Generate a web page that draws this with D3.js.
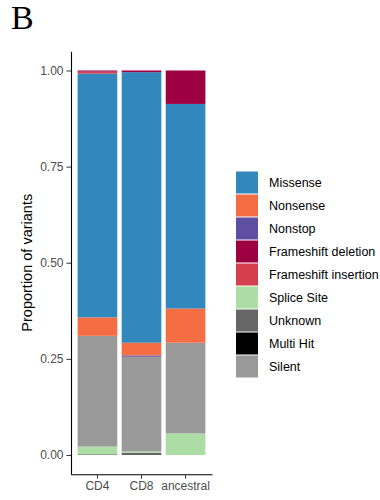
<!DOCTYPE html>
<html>
<head>
<meta charset="utf-8">
<script src="https://cdn.jsdelivr.net/npm/d3@7/dist/d3.min.js"></script>
<style>
  html, body { margin: 0; padding: 0; background: #fff; }
  svg { display: block; }
  text { font-family: "Liberation Sans", Arial, Helvetica, sans-serif; }
</style>
</head>
<body>
<svg id="chart" width="380" height="500"></svg>
<script>
// Samples along the x axis
const samples = ["CD4", "CD8", "ancestral"];

// Variant classes, in legend order
const variantTypes = [
  "Missense", "Nonsense", "Nonstop", "Frameshift deletion",
  "Frameshift insertion", "Splice Site", "Unknown", "Multi Hit", "Silent"
];

// Proportion of variants per class, one value per sample
const missense            = [0.634, 0.7036, 0.532];
const nonsense            = [0.048, 0.033, 0.089];
const nonstop             = [0.000, 0.0035, 0.000];
const frameshiftDeletion  = [0.003, 0.0044, 0.087];
const frameshiftInsertion = [0.005, 0.000, 0.000];
const spliceSite          = [0.020, 0.0035, 0.056];
const unknown             = [0.002, 0.006, 0.000];
const multiHit            = [0.000, 0.000, 0.000];
const silent              = [0.288, 0.246, 0.236];

// Y axis ticks
const yTicks = [0, 0.25, 0.5, 0.75, 1];

const seriesByType = {
  "Missense": missense,
  "Nonsense": nonsense,
  "Nonstop": nonstop,
  "Frameshift deletion": frameshiftDeletion,
  "Frameshift insertion": frameshiftInsertion,
  "Splice Site": spliceSite,
  "Unknown": unknown,
  "Multi Hit": multiHit,
  "Silent": silent
};

const colors = {
  "Missense": "#3288BD",
  "Nonsense": "#F46D43",
  "Nonstop": "#5E4FA2",
  "Frameshift deletion": "#9E0142",
  "Frameshift insertion": "#D53E4F",
  "Splice Site": "#ABDDA4",
  "Unknown": "#666666",
  "Multi Hit": "#000000",
  "Silent": "#999999"
};

// Stacking order, bottom to top (alphabetical classes, first one on top)
const stackKeys = variantTypes.slice().sort().reverse();

const rows = samples.map((s, i) => {
  const r = { sample: s };
  variantTypes.forEach(t => { r[t] = seriesByType[t][i]; });
  return r;
});

const stacked = d3.stack()
  .keys(stackKeys)
  .offset(d3.stackOffsetExpand)(rows);

const svg = d3.select("#chart");

const panel = { left: 71, right: 212, top: 51.25, bottom: 474.25 };

const x = d3.scaleBand()
  .domain(samples)
  .range([panel.left, panel.right])
  .paddingInner(0.1)
  .paddingOuter(0.15);

const y = d3.scaleLinear()
  .domain([-0.05, 1.05])
  .range([panel.bottom, panel.top]);

// Stacked bars
svg.append("g")
  .selectAll("g")
  .data(stacked)
  .join("g")
  .attr("fill", d => colors[d.key])
  .selectAll("rect")
  .data(d => d)
  .join("rect")
  .attr("x", d => x(d.data.sample))
  .attr("width", x.bandwidth())
  .attr("y", d => y(d[1]))
  .attr("height", d => Math.max(0, y(d[0]) - y(d[1])));

// Y axis
const yAxis = svg.append("g")
  .attr("transform", `translate(${panel.left},0)`)
  .call(d3.axisLeft(y).tickValues(yTicks).tickFormat(d3.format(".2f"))
    .tickSize(4.5).tickSizeOuter(0).tickPadding(3));
yAxis.select(".domain").attr("stroke", "#000").attr("stroke-width", 1.1);
yAxis.selectAll(".tick line").attr("stroke", "#333");
yAxis.selectAll(".tick text")
  .attr("fill", "#4D4D4D")
  .style("font-size", "12px");

// X axis
const xAxis = svg.append("g")
  .attr("transform", `translate(0,${panel.bottom})`)
  .call(d3.axisBottom(x).tickSize(4.5).tickSizeOuter(0).tickPadding(3));
xAxis.select(".domain").attr("stroke", "#000").attr("stroke-width", 1.1);
xAxis.selectAll(".tick line").attr("stroke", "#333");
xAxis.selectAll(".tick text")
  .attr("fill", "#4D4D4D")
  .style("font-size", "12px");

// Y axis title
svg.append("text")
  .attr("transform", `translate(32,${(panel.top + panel.bottom) / 2}) rotate(-90)`)
  .attr("text-anchor", "middle")
  .style("font-size", "14.5px")
  .attr("fill", "#000")
  .text("Proportion of variants");

// Legend
const legend = svg.append("g")
  .attr("transform", "translate(236,171.5)");
const item = legend.selectAll("g")
  .data(variantTypes)
  .join("g")
  .attr("transform", (d, i) => `translate(0,${i * 23})`);
item.append("rect")
  .attr("width", 22)
  .attr("height", 22)
  .attr("fill", d => colors[d]);
item.append("text")
  .attr("x", 33)
  .attr("y", 15.5)
  .style("font-size", "12.5px")
  .attr("fill", "#000")
  .text(d => d);

// Panel label
svg.append("text")
  .attr("x", 11)
  .attr("y", 29)
  .style("font-family", "'Liberation Serif', 'Times New Roman', serif")
  .style("font-size", "34px")
  .attr("fill", "#000")
  .text("B");
</script>
</body>
</html>
